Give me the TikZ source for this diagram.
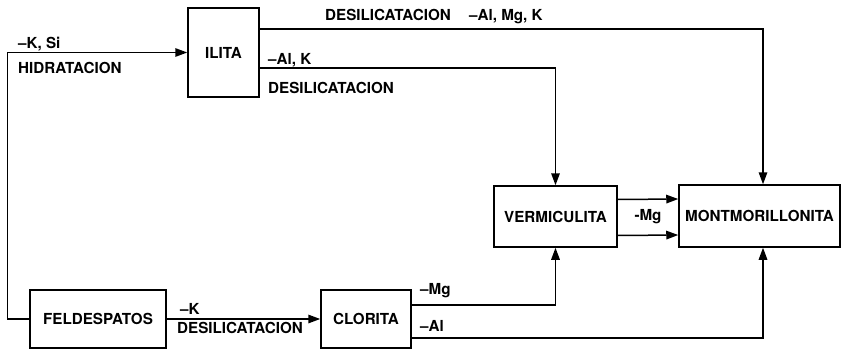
\documentclass[tikz,border=0pt]{standalone}
\usepackage{fontspec}
\setmainfont{TeX Gyre Heros}
\usetikzlibrary{arrows.meta, positioning}
\tikzset{
  mineralfig/.style={
    x=1pt, y=-1pt,
    every node/.append style={font=\fontsize{15.2}{17}\selectfont\bfseries},
    >={Triangle[length=12pt, width=8.5pt]},
  },
  mineral/.style={
    draw, line width=1.5pt, inner sep=2pt, align=center,
  },
  flow/.style={draw, line width=1.5pt, ->},
  proc/.style={inner sep=0pt, anchor=west},
}

\begin{document}
\begin{tikzpicture}[mineralfig]
  \useasboundingbox (0,0) rectangle (848,350);
  \node[mineral, minimum width=71pt, minimum height=89pt] (Ilita) at (223.5,52.5) {ILITA};
  \node[mineral, minimum width=123pt, minimum height=61pt] (Vermiculita) at (555.5,216.5) {VERMICULITA};
  \node[mineral, minimum width=161pt, minimum height=62pt] (Montmorillonita) at (759.5,216) {MONTMORILLONITA};
  \node[mineral, minimum width=136pt, minimum height=58pt] (Feldespatos) at (98,319) {FELDESPATOS};
  \node[mineral, minimum width=90pt, minimum height=58pt] (Clorita) at (366,319) {CLORITA};
  % Pfeile
  \draw[flow] (Feldespatos.west) -- ++(-22,0) |- (Ilita.west);
  \draw[flow] (Feldespatos) -- (Clorita);
  \draw[flow] ([yshift=23.5pt]Ilita.east) -| ([xshift=3.5pt]Montmorillonita.north);
  \draw[flow] ([yshift=-15.5pt]Ilita.east) -| (Vermiculita.north);
  \draw[flow] ([yshift=14pt]Clorita.east) -| (Vermiculita.south);
  \draw[flow] ([yshift=-19pt]Clorita.east) -| ([xshift=3.5pt]Montmorillonita.south);
  \draw[flow] ([yshift=17pt]Vermiculita.east) -- ([yshift=17pt]Montmorillonita.west);
  \draw[flow] ([yshift=-19pt]Vermiculita.east) -- ([yshift=-19pt]Montmorillonita.west);
  % Beschriftungen
  \node[proc] (lblKSi) at (18,44) {--K, Si};
  \node[proc] (lblHidra) at (18,68) {HIDRATACION};
  \node[proc] (lblTop) at (325,17) {DESILICATACION\hspace{1.2em}--Al, Mg, K};
  \node[proc] (lblAlK) at (268,60) {--Al, K};
  \node[proc] (lblDesIl) at (268,88) {DESILICATACION};
  \node[proc] (lblK) at (180,309) {--K};
  \node[proc] (lblDesFe) at (177,328) {DESILICATACION};
  \node[proc] (lblMgCl) at (420,291) {--Mg};
  \node[proc] (lblAlCl) at (420,326) {--Al};
  \node[inner sep=0pt] (lblMgVe) at (648,217) {-Mg};
\end{tikzpicture}
\end{document}
